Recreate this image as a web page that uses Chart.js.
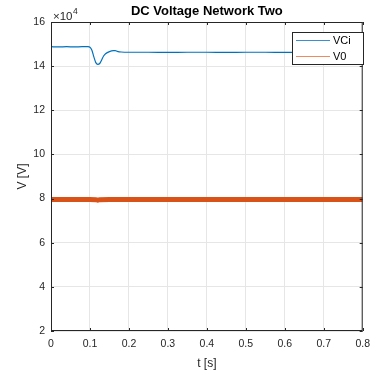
<!DOCTYPE html>
<html>
<head>
<meta charset="utf-8">
<script src="https://cdn.jsdelivr.net/npm/chart.js@4/dist/chart.umd.min.js"></script>
<style>
  html, body { margin: 0; padding: 0; background: #fff; }
  canvas { display: block; }
</style>
</head>
<body>
<canvas id="chart" width="377" height="373"></canvas>
<script>
// DC bus voltages, network two (volts)
const tVCi = [0, 0.02, 0.04, 0.06, 0.08, 0.095, 0.1, 0.105, 0.11, 0.115, 0.12, 0.125, 0.13, 0.135, 0.14, 0.15,
  0.16, 0.165, 0.17, 0.18, 0.2, 0.25, 0.3, 0.35, 0.4, 0.45, 0.5, 0.55, 0.6, 0.65, 0.7, 0.75, 0.8];
const vVCi = [148800, 148700, 148800, 148700, 148800, 148800, 148600, 147200, 144200, 141600, 140800, 141200,
  142800, 144600, 145600, 146600, 147000, 147000, 146700, 146400, 146300, 146300, 146200, 146300, 146300,
  146200, 146300, 146300, 146200, 146300, 146300, 146200, 146300];

const tV0 = [0, 0.05, 0.1, 0.115, 0.12, 0.125, 0.15, 0.2, 0.3, 0.4, 0.5, 0.6, 0.7, 0.8];
const vV0 = [79600, 79600, 79600, 79500, 79300, 79500, 79600, 79600, 79600, 79600, 79600, 79600, 79600, 79600];

const xTicksMax = 0.8;
const yMin = 20000, yMax = 160000, yStep = 20000;
const seriesNames = ['VCi', 'V0'];
const seriesColors = ['#0072BD', '#D95319'];
const legendColors = ['#3a8fd0', '#ec8a62'];

const axisColor = '#262626';
const FONT = 'Arial, "Liberation Sans", Helvetica, sans-serif';

const toPoints = (ts, vs) => ts.map((t, i) => ({ x: t, y: vs[i] }));

// MATLAB-style decorations: box, inward ticks, title, exponent, legend
const matlabAxes = {
  id: 'matlabAxes',
  afterDatasetsDraw(chart) {
    const { ctx, chartArea: a, scales } = chart;
    ctx.save();
    ctx.strokeStyle = axisColor;
    ctx.lineWidth = 1;
    ctx.strokeRect(a.left + 0.5, a.top + 0.5, a.right - a.left - 1, a.bottom - a.top - 1);
    ctx.beginPath();
    scales.x.ticks.forEach(t => {
      const px = Math.round(scales.x.getPixelForValue(t.value)) + 0.5;
      ctx.moveTo(px, a.bottom); ctx.lineTo(px, a.bottom - 3);
      ctx.moveTo(px, a.top); ctx.lineTo(px, a.top + 3);
    });
    scales.y.ticks.forEach(t => {
      const py = Math.round(scales.y.getPixelForValue(t.value)) + 0.5;
      ctx.moveTo(a.left, py); ctx.lineTo(a.left + 3, py);
      ctx.moveTo(a.right, py); ctx.lineTo(a.right - 3, py);
    });
    ctx.stroke();

    // title
    ctx.fillStyle = '#000';
    ctx.font = 'bold 13px ' + FONT;
    ctx.textAlign = 'center';
    ctx.textBaseline = 'middle';
    ctx.fillText('DC Voltage Network Two', (a.left + a.right) / 2, 11);

    // exponent
    ctx.fillStyle = axisColor;
    ctx.textAlign = 'left';
    ctx.textBaseline = 'alphabetic';
    ctx.font = '11.5px ' + FONT;
    ctx.fillText('\u00d710', a.left + 2, 19.5);
    const w = ctx.measureText('\u00d710').width;
    ctx.font = '8.5px ' + FONT;
    ctx.fillText('4', a.left + 2 + w + 0.5, 14);

    // legend
    const lx = 292, ly = 32, lw = 71, lh = 32;
    ctx.fillStyle = '#fff';
    ctx.fillRect(lx, ly, lw, lh);
    ctx.strokeStyle = axisColor;
    ctx.strokeRect(lx + 0.5, ly + 0.5, lw, lh);
    ctx.font = '11px ' + FONT;
    ctx.textBaseline = 'middle';
    seriesNames.forEach((name, i) => {
      const y = Math.round(ly + 8 + i * 15.5) + 0.5;
      ctx.strokeStyle = legendColors[i];
      ctx.lineWidth = 1.2;
      ctx.beginPath();
      ctx.moveTo(lx + 4, y); ctx.lineTo(lx + 38, y);
      ctx.stroke();
      ctx.fillStyle = '#000';
      ctx.fillText(name, lx + 41, y + 0.5);
    });
    ctx.restore();
  }
};

new Chart(document.getElementById('chart'), {
  type: 'line',
  data: {
    datasets: [
      {
        label: seriesNames[0],
        data: toPoints(tVCi, vVCi),
        borderColor: seriesColors[0],
        borderWidth: 1.2,
        pointRadius: 0,
        cubicInterpolationMode: 'monotone',
        fill: false
      },
      {
        label: seriesNames[1],
        data: toPoints(tV0, vV0),
        borderColor: seriesColors[1],
        borderWidth: 5,
        pointRadius: 0,
        fill: false
      }
    ]
  },
  options: {
    responsive: false,
    animation: false,
    events: [],
    layout: { padding: { top: 22, right: 13, left: 0, bottom: 0 } },
    plugins: {
      legend: { display: false },
      title: { display: false },
      tooltip: { enabled: false }
    },
    scales: {
      x: {
        type: 'linear',
        min: 0,
        max: xTicksMax,
        afterFit: s => { s.height = 42; },
        ticks: {
          stepSize: 0.1,
          color: axisColor,
          font: { family: FONT, size: 10.5 },
          padding: 7,
          maxRotation: 0,
          callback: v => (Math.round(v * 10) / 10).toString()
        },
        grid: { color: '#e6e6e6', drawTicks: false },
        border: { display: false },
        title: {
          display: true,
          text: 't [s]',
          color: axisColor,
          font: { family: FONT, size: 12 },
          padding: { top: 0, bottom: 2 }
        }
      },
      y: {
        type: 'linear',
        min: yMin,
        max: yMax,
        afterFit: s => { s.width = 51; },
        ticks: {
          stepSize: yStep,
          color: axisColor,
          font: { family: FONT, size: 10.5 },
          padding: 6,
          callback: v => (v / 1e4).toString()
        },
        grid: { color: '#e6e6e6', drawTicks: false },
        border: { display: false },
        title: {
          display: true,
          text: 'V [V]',
          color: axisColor,
          font: { family: FONT, size: 12 },
          padding: { top: 15, bottom: 0 }
        }
      }
    }
  },
  plugins: [matlabAxes]
});
</script>
</body>
</html>
